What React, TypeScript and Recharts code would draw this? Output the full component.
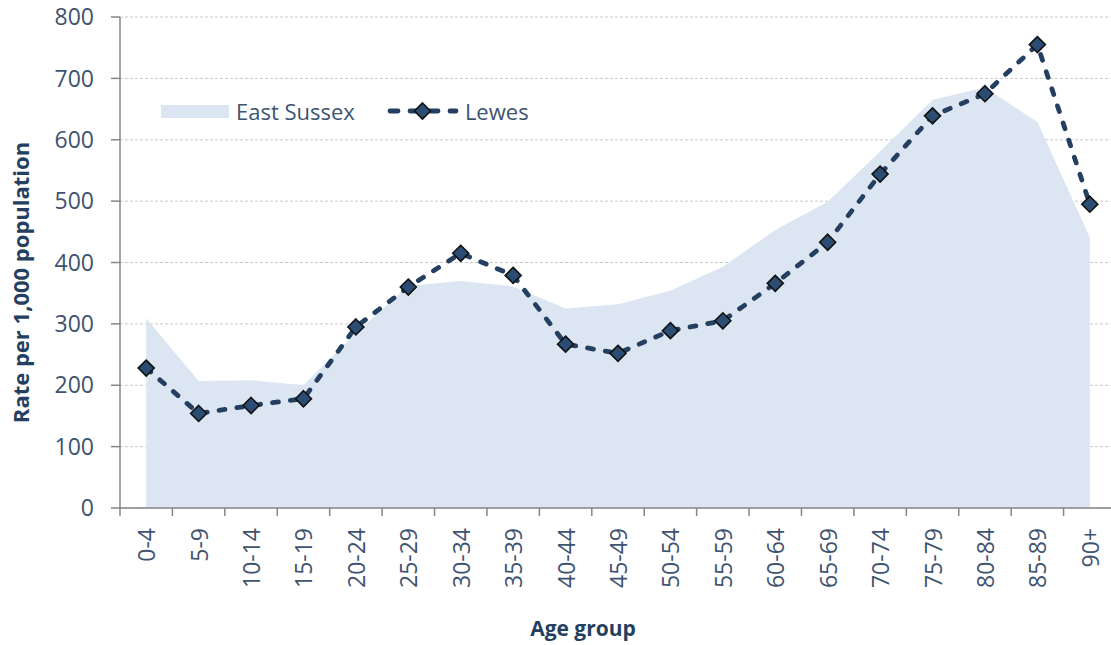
import React from 'react';
import {
  ComposedChart,
  Area,
  Line,
  XAxis,
  YAxis,
  CartesianGrid,
  Legend,
} from 'recharts';

const AGE_GROUPS = [
  '0-4', '5-9', '10-14', '15-19', '20-24', '25-29', '30-34', '35-39', '40-44', '45-49',
  '50-54', '55-59', '60-64', '65-69', '70-74', '75-79', '80-84', '85-89', '90+',
];
const EAST_SUSSEX = [
  309, 207, 208, 200, 285, 362, 370, 361, 325, 332,
  354, 393, 453, 499, 581, 665, 685, 629, 441,
];
const LEWES = [
  228, 154, 167, 178, 295, 360, 415, 379, 267, 252,
  289, 305, 366, 433, 544, 639, 675, 755, 495,
];
const Y_TICKS = [0, 100, 200, 300, 400, 500, 600, 700, 800];

const CHART_W = 1116;
const CHART_H = 645;
const Y_AXIS_W = 120;
const BAND = (CHART_W - Y_AXIS_W) / AGE_GROUPS.length;

const TEXT = '#3E5370';
const TITLE = '#243F60';
const AXIS = '#868686';
const FILL = '#DCE6F2';
const LINE = '#243F60';
const MARKER = '#2B4C73';

const data = AGE_GROUPS.map((age, i) => ({
  age,
  eastSussex: EAST_SUSSEX[i],
  lewes: LEWES[i],
}));

const AgeTick = (props: any) => {
  const { x, y, payload, index } = props;
  const half = BAND / 2;
  return (
    <g>
      <line x1={x - half} y1={y} x2={x - half} y2={y + 8} stroke={AXIS} strokeWidth={1.5} />
      {index === AGE_GROUPS.length - 1 && (
        <line x1={x + half} y1={y} x2={x + half} y2={y + 8} stroke={AXIS} strokeWidth={1.5} />
      )}
      <text
        x={x}
        y={y + 20}
        transform={`rotate(-90 ${x} ${y + 20})`}
        textAnchor="end"
        dominantBaseline="central"
        fill={TEXT}
        fontSize={23}
      >
        {payload.value}
      </text>
    </g>
  );
};

const Diamond = (props: any) => {
  const { cx, cy, index } = props;
  if (cx == null || cy == null) return <g key={`d-${index}`} />;
  const r = 8;
  return (
    <polygon
      key={`d-${index}`}
      points={`${cx},${cy - r} ${cx + r},${cy} ${cx},${cy + r} ${cx - r},${cy}`}
      fill={MARKER}
      stroke="#111"
      strokeWidth={1.6}
    />
  );
};

const YTitle = (props: any) => {
  const { viewBox } = props;
  const cx = viewBox.x + 20;
  const cy = viewBox.y + viewBox.height / 2 + 20;
  return (
    <text
      x={cx}
      y={cy}
      transform={`rotate(-90 ${cx} ${cy})`}
      textAnchor="middle"
      dominantBaseline="central"
      fill={TITLE}
      fontSize={22}
      fontWeight="bold"
    >
      Rate per 1,000 population
    </text>
  );
};

const XTitle = (props: any) => {
  const { viewBox } = props;
  return (
    <text
      x={viewBox.x + 463}
      y={viewBox.y + 128}
      textAnchor="middle"
      fill={TITLE}
      fontSize={21}
      fontWeight="bold"
    >
      Age group
    </text>
  );
};

const ChartLegend = () => (
  <div style={{ display: 'flex', alignItems: 'center', color: TEXT, fontSize: 22, whiteSpace: 'nowrap' }}>
    <div style={{ width: 68, height: 13, background: FILL, marginRight: 7 }} />
    <span>East Sussex</span>
    <svg width={72} height={20} style={{ marginLeft: 32, marginRight: 6 }}>
      <line x1={3} y1={10} x2={69} y2={10} stroke={LINE} strokeWidth={4.8} strokeDasharray="8 12" strokeLinecap="round" />
      <polygon points="35.5,2 43.5,10 35.5,18 27.5,10" fill={MARKER} stroke="#111" strokeWidth={1.6} />
    </svg>
    <span>Lewes</span>
  </div>
);

export default function App() {
  return (
    <div style={{ fontFamily: '"Open Sans", sans-serif' }}>
      <style>{'html,body{margin:0;overflow:hidden}'}</style>
      <ComposedChart
        width={CHART_W}
        height={CHART_H}
        data={data}
        margin={{ top: 17, right: 0, bottom: 0, left: 0 }}
      >
        <CartesianGrid vertical={false} stroke="#C8C8C8" strokeDasharray="3 2" />
        <XAxis
          dataKey="age"
          height={CHART_H - 17 - 491}
          interval={0}
          tickSize={0}
          tickMargin={0}
          tickLine={false}
          tick={<AgeTick />}
          axisLine={{ stroke: AXIS, strokeWidth: 1.5 }}
          padding={{ left: BAND / 2, right: BAND / 2 }}
          label={{ content: (p: any) => <XTitle {...p} /> }}
        />
        <YAxis
          width={Y_AXIS_W}
          domain={[0, 800]}
          ticks={Y_TICKS}
          interval={0}
          tickSize={9}
          tickMargin={17}
          tick={{ fill: TEXT, fontSize: 23 }}
          tickLine={{ stroke: AXIS, strokeWidth: 1.5 }}
          axisLine={{ stroke: AXIS, strokeWidth: 1.5 }}
          label={{ content: (p: any) => <YTitle {...p} /> }}
        />
        <Legend
          layout="horizontal"
          verticalAlign="middle"
          align="center"
          content={<ChartLegend />}
          wrapperStyle={{ top: 96, left: 161, width: 'auto' }}
        />
        <Area
          type="linear"
          dataKey="eastSussex"
          name="East Sussex"
          fill={FILL}
          fillOpacity={1}
          stroke="none"
          isAnimationActive={false}
        />
        <Line
          type="linear"
          dataKey="lewes"
          name="Lewes"
          stroke={LINE}
          strokeWidth={4.8}
          strokeDasharray="6 12"
          strokeLinecap="round"
          dot={(p: any) => <Diamond {...p} />}
          activeDot={false}
          isAnimationActive={false}
        />
      </ComposedChart>
    </div>
  );
}
